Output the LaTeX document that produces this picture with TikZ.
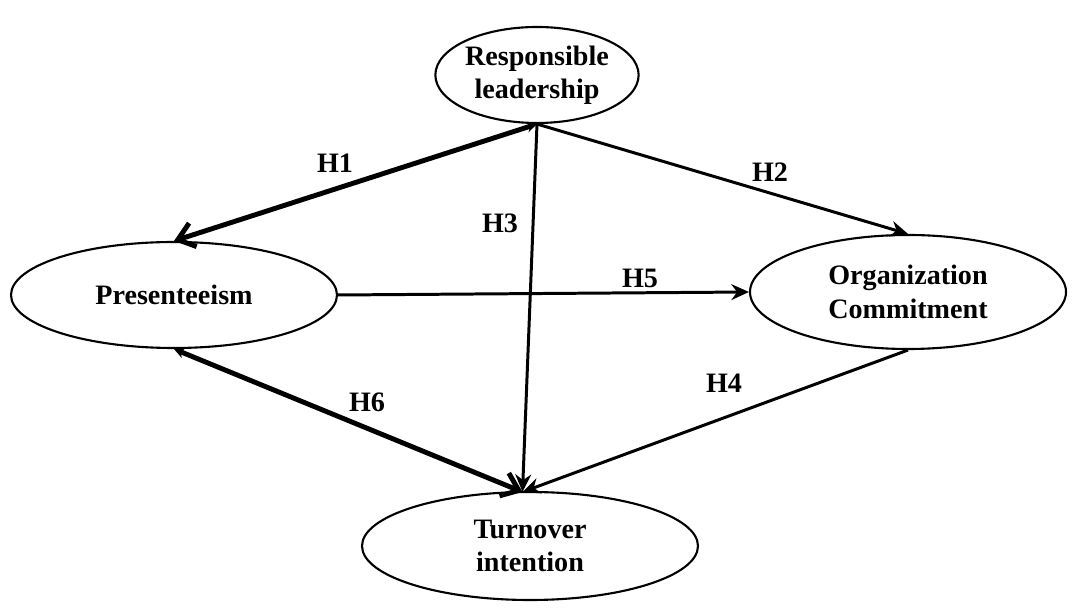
\documentclass[tikz,border=0pt]{standalone}
\usepackage{fontspec}
\setmainfont{Liberation Serif}
\usetikzlibrary{shapes.geometric,arrows.meta}
\begin{document}
\begin{tikzpicture}[
        construct/.style={ellipse, draw=black, line width=1.2pt, inner sep=0pt, align=center,
                          font=\fontsize{16}{19}\selectfont\bfseries},
        hyp/.style={font=\fontsize{16}{19}\selectfont\bfseries, inner sep=1pt},
        path/.style={line width=1.7pt, -{Stealth[length=10pt,width=9pt]}},
        covpath/.style={line width=2.8pt, {Stealth[length=6pt,width=6pt]}-{Straight Barb[length=9pt,width=14pt]}}
    ]
                \useasboundingbox (0,0) rectangle (21.44,12.24);

                \node [construct, minimum width=3.88cm, minimum height=1.92cm] (RL) at (10.74,10.74) {Responsible\\leadership};
                \node [construct, minimum width=6.52cm, minimum height=2.12cm] (PR) at (3.48,6.34) {Presenteeism};
                \node [construct, minimum width=6.32cm, minimum height=2.28cm] (OC) at (18.16,6.40) {Organization\\Commitment};
                \node [construct, minimum width=6.72cm, minimum height=2.16cm] (TI) at (10.60,1.32) {Turnover\\intention};
                \coordinate (TIin) at (10.45,2.40);

                \draw[covpath] (RL.south) -- (PR.north);
                \draw[path] (RL.south) -- (OC.north);
                \draw[path] (RL.south) -- (TIin);
                \draw[path] (PR.east) -- (OC.west);
                \draw[covpath] (PR.south) -- (TIin);
                \draw[path] (OC.south) -- (TIin);

                \node [hyp] (H1) at (6.70,8.98) {H1};
                \node [hyp] (H2) at (15.40,8.80) {H2};
                \node [hyp] (H3) at (10.00,7.78) {H3};
                \node [hyp] (H5) at (12.80,6.68) {H5};
                \node [hyp] (H6) at (7.34,4.20) {H6};
                \node [hyp] (H4) at (14.48,4.58) {H4};
            \end{tikzpicture}
\end{document}
